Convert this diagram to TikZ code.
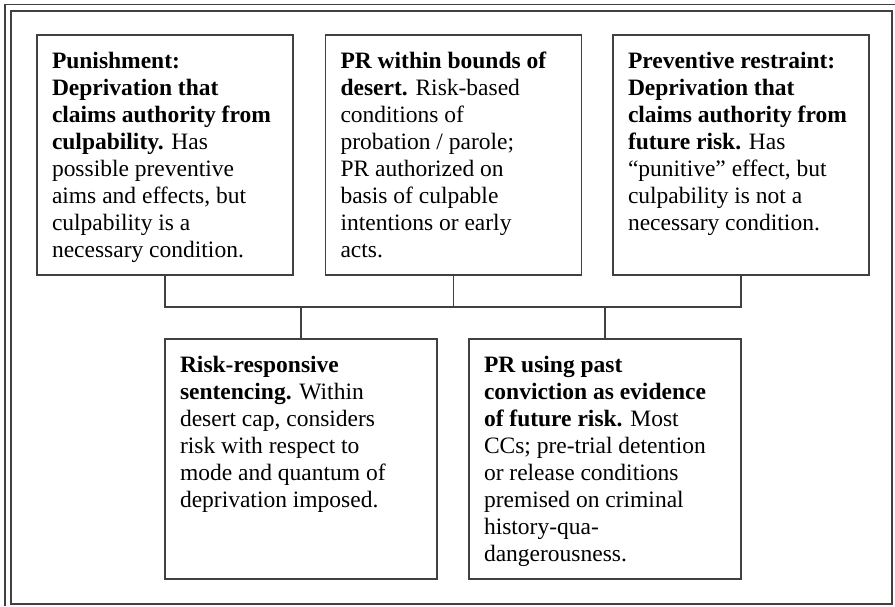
\documentclass[tikz,border=0pt]{standalone}
\usepackage{fontspec}
\setmainfont{Liberation Serif}

\newcommand{\cardtext}[2]{\parbox[t][206pt][t]{#1}{\raggedright #2}}

\begin{document}
\begin{tikzpicture}[x=1pt,y=-1pt]

      \useasboundingbox (0,0) rectangle (895,606);
      \draw[line width=1.4pt, black!75] (5,606) -- (5,4.5) -- (895,4.5);
      \draw[line width=1.8pt, black!75] (11,11) rectangle (892,604);

      \begin{scope}[every node/.style={draw, line width=1.3pt, black!75, text=black,
          inner xsep=15pt, inner ysep=17pt, font=\fontsize{23.5}{27}\selectfont}]
        \node (1) at (165,155) {\cardtext{226pt}{\textbf{Punishment:\\
          Deprivation that\\ claims authority from\\ culpability.} Has\\
          possible preventive\\ aims and effects, but\\ culpability is a\\
          necessary condition.}};
        \node (2) at (453.5,155) {\cardtext{226pt}{\textbf{PR within bounds of\\
          desert.} Risk-based\\ conditions of\\ probation / parole;\\
          PR authorized on\\ basis of culpable\\ intentions or early\\ acts.}};
        \node (3) at (741,155) {\cardtext{226pt}{\textbf{Preventive restraint:\\
          Deprivation that\\ claims authority from\\ future risk.} Has\\
          “punitive” effect, but\\ culpability is not a\\ necessary condition.}};
        \node (4) at (301,459) {\cardtext{242pt}{\textbf{Risk-responsive\\
          sentencing.} Within\\ desert cap, considers\\ risk with respect to\\
          mode and quantum of\\ deprivation imposed.}};
        \node (5) at (605,459) {\cardtext{242pt}{\textbf{PR using past\\
          conviction as evidence\\ of future risk.} Most\\ CCs; pre-trial detention\\
          or release conditions\\ premised on criminal\\ history-qua-\\
          dangerousness.}};
      \end{scope}

      \coordinate (6)  at (165,307);
      \coordinate (7)  at (453.5,307);
      \coordinate (8)  at (741,307);
      \coordinate (9)  at (301,307);
      \coordinate (10) at (605,307);

      \begin{scope}[every edge/.style={draw, line width=1.2pt, black!75, line cap=rect}]
        \path (1)  edge (6);
        \path (2)  edge (7);
        \path (3)  edge (8);
        \path (6)  edge (8);
        \path (9)  edge (4);
        \path (10) edge (5);
      \end{scope}

    \end{tikzpicture}
\end{document}
